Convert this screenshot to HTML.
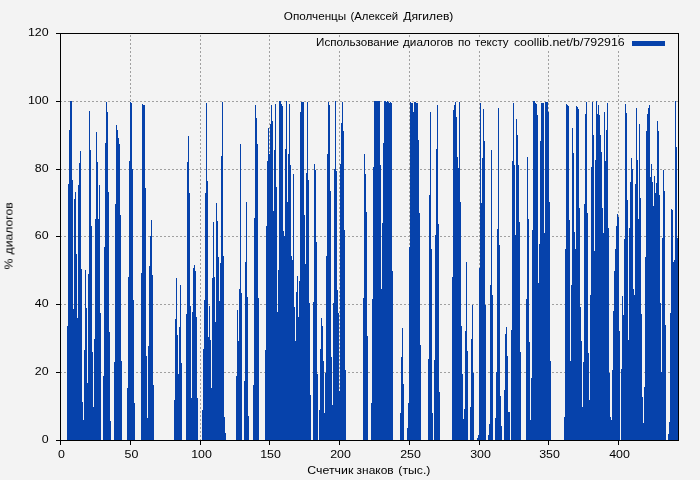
<!DOCTYPE html>
<html><head><meta charset="utf-8"><title>chart</title>
<style>
html,body{margin:0;padding:0;background:#f3f3f3;}
body{width:700px;height:480px;overflow:hidden;}
svg{display:block;}
text{font-family:"Liberation Sans",sans-serif;font-size:11.5px;fill:#000;}
</style></head><body>
<svg width="700" height="480" viewBox="0 0 700 480">
<rect x="0" y="0" width="700" height="480" fill="#f3f3f3"/>
<g stroke="#a0a0a0" stroke-width="1" stroke-dasharray="2,2" shape-rendering="crispEdges" fill="none">
<line x1="130.5" y1="441" x2="130.5" y2="33"/><line x1="200.5" y1="441" x2="200.5" y2="33"/><line x1="269.5" y1="441" x2="269.5" y2="33"/><line x1="339.5" y1="441" x2="339.5" y2="33"/><line x1="409.5" y1="441" x2="409.5" y2="33"/><line x1="479.5" y1="441" x2="479.5" y2="33"/><line x1="548.5" y1="441" x2="548.5" y2="33"/><line x1="618.5" y1="441" x2="618.5" y2="33"/><line x1="60" y1="372.5" x2="679" y2="372.5"/><line x1="60" y1="304.5" x2="679" y2="304.5"/><line x1="60" y1="236.5" x2="679" y2="236.5"/><line x1="60" y1="169.5" x2="679" y2="169.5"/><line x1="60" y1="101.5" x2="679" y2="101.5"/>
</g>
<rect x="313" y="38" width="358" height="13" fill="#f3f3f3" shape-rendering="crispEdges"/>
<g fill="#0642ab" shape-rendering="crispEdges">
<rect x="67" y="326" width="1" height="114"/><rect x="68" y="184" width="1" height="256"/><rect x="69" y="130" width="1" height="310"/><rect x="70" y="101" width="2" height="339"/><rect x="72" y="180" width="1" height="260"/><rect x="73" y="309" width="1" height="131"/><rect x="74" y="199" width="1" height="241"/><rect x="75" y="192" width="1" height="248"/><rect x="76" y="254" width="1" height="186"/><rect x="77" y="318" width="1" height="122"/><rect x="78" y="185" width="1" height="255"/><rect x="79" y="163" width="1" height="277"/><rect x="80" y="151" width="1" height="289"/><rect x="81" y="269" width="1" height="171"/><rect x="82" y="402" width="1" height="38"/><rect x="83" y="420" width="1" height="20"/><rect x="84" y="350" width="1" height="90"/><rect x="85" y="270" width="1" height="170"/><rect x="86" y="308" width="1" height="132"/><rect x="87" y="383" width="1" height="57"/><rect x="88" y="274" width="1" height="166"/><rect x="89" y="111" width="1" height="329"/><rect x="90" y="150" width="1" height="290"/><rect x="91" y="226" width="1" height="214"/><rect x="92" y="352" width="1" height="88"/><rect x="93" y="407" width="1" height="33"/><rect x="94" y="339" width="1" height="101"/><rect x="95" y="219" width="1" height="221"/><rect x="96" y="132" width="1" height="308"/><rect x="97" y="162" width="1" height="278"/><rect x="98" y="219" width="1" height="221"/><rect x="99" y="185" width="1" height="255"/><rect x="100" y="313" width="1" height="127"/><rect x="103" y="376" width="1" height="64"/><rect x="104" y="247" width="1" height="193"/><rect x="105" y="143" width="1" height="297"/><rect x="106" y="102" width="1" height="338"/><rect x="107" y="112" width="1" height="328"/><rect x="108" y="192" width="1" height="248"/><rect x="109" y="332" width="1" height="108"/><rect x="110" y="421" width="1" height="19"/><rect x="114" y="362" width="1" height="78"/><rect x="115" y="204" width="1" height="236"/><rect x="116" y="125" width="1" height="315"/><rect x="117" y="130" width="1" height="310"/><rect x="118" y="138" width="1" height="302"/><rect x="119" y="144" width="1" height="296"/><rect x="120" y="215" width="1" height="225"/><rect x="121" y="361" width="1" height="79"/><rect x="127" y="388" width="1" height="52"/><rect x="128" y="277" width="1" height="163"/><rect x="129" y="161" width="1" height="279"/><rect x="130" y="102" width="1" height="338"/><rect x="131" y="103" width="1" height="337"/><rect x="132" y="169" width="1" height="271"/><rect x="133" y="300" width="1" height="140"/><rect x="134" y="403" width="1" height="37"/><rect x="141" y="273" width="1" height="167"/><rect x="142" y="104" width="1" height="336"/><rect x="143" y="105" width="2" height="335"/><rect x="145" y="188" width="1" height="252"/><rect x="146" y="356" width="1" height="84"/><rect x="147" y="418" width="1" height="22"/><rect x="148" y="346" width="1" height="94"/><rect x="149" y="266" width="1" height="174"/><rect x="150" y="236" width="1" height="204"/><rect x="151" y="220" width="1" height="220"/><rect x="152" y="275" width="1" height="165"/><rect x="153" y="385" width="1" height="55"/><rect x="174" y="400" width="1" height="40"/><rect x="175" y="319" width="1" height="121"/><rect x="176" y="278" width="1" height="162"/><rect x="177" y="335" width="1" height="105"/><rect x="178" y="374" width="1" height="66"/><rect x="179" y="327" width="1" height="113"/><rect x="180" y="285" width="1" height="155"/><rect x="181" y="363" width="1" height="77"/><rect x="186" y="314" width="1" height="126"/><rect x="187" y="162" width="1" height="278"/><rect x="188" y="136" width="1" height="304"/><rect x="189" y="193" width="1" height="247"/><rect x="190" y="306" width="1" height="134"/><rect x="191" y="398" width="1" height="42"/><rect x="192" y="312" width="1" height="128"/><rect x="193" y="268" width="1" height="172"/><rect x="194" y="265" width="1" height="175"/><rect x="195" y="271" width="1" height="169"/><rect x="196" y="317" width="1" height="123"/><rect x="197" y="398" width="1" height="42"/><rect x="202" y="410" width="1" height="30"/><rect x="203" y="349" width="1" height="91"/><rect x="204" y="300" width="1" height="140"/><rect x="205" y="193" width="1" height="247"/><rect x="206" y="103" width="1" height="337"/><rect x="207" y="181" width="1" height="259"/><rect x="208" y="337" width="1" height="103"/><rect x="209" y="306" width="1" height="134"/><rect x="210" y="340" width="1" height="100"/><rect x="211" y="388" width="1" height="52"/><rect x="212" y="278" width="1" height="162"/><rect x="213" y="222" width="1" height="218"/><rect x="214" y="277" width="1" height="163"/><rect x="215" y="322" width="1" height="118"/><rect x="216" y="203" width="1" height="237"/><rect x="217" y="221" width="1" height="219"/><rect x="218" y="257" width="1" height="183"/><rect x="219" y="301" width="1" height="139"/><rect x="220" y="263" width="1" height="177"/><rect x="221" y="156" width="1" height="284"/><rect x="222" y="102" width="1" height="338"/><rect x="223" y="256" width="1" height="184"/><rect x="224" y="417" width="1" height="23"/><rect x="225" y="433" width="1" height="7"/><rect x="236" y="376" width="1" height="64"/><rect x="237" y="310" width="1" height="130"/><rect x="238" y="341" width="1" height="99"/><rect x="239" y="289" width="1" height="151"/><rect x="240" y="144" width="1" height="296"/><rect x="241" y="293" width="1" height="147"/><rect x="244" y="381" width="1" height="59"/><rect x="245" y="262" width="1" height="178"/><rect x="246" y="202" width="1" height="238"/><rect x="247" y="297" width="1" height="143"/><rect x="248" y="416" width="1" height="24"/><rect x="253" y="385" width="1" height="55"/><rect x="254" y="218" width="1" height="222"/><rect x="255" y="105" width="1" height="335"/><rect x="256" y="118" width="1" height="322"/><rect x="257" y="144" width="1" height="296"/><rect x="258" y="298" width="1" height="142"/><rect x="265" y="350" width="1" height="90"/><rect x="266" y="226" width="1" height="214"/><rect x="267" y="161" width="1" height="279"/><rect x="268" y="128" width="1" height="312"/><rect x="269" y="154" width="1" height="286"/><rect x="270" y="124" width="1" height="316"/><rect x="271" y="105" width="1" height="335"/><rect x="272" y="121" width="1" height="319"/><rect x="273" y="211" width="1" height="229"/><rect x="274" y="150" width="1" height="290"/><rect x="275" y="104" width="1" height="336"/><rect x="276" y="187" width="1" height="253"/><rect x="277" y="312" width="1" height="128"/><rect x="278" y="270" width="1" height="170"/><rect x="279" y="101" width="2" height="339"/><rect x="281" y="104" width="1" height="336"/><rect x="282" y="106" width="1" height="334"/><rect x="283" y="231" width="1" height="209"/><rect x="284" y="236" width="1" height="204"/><rect x="285" y="149" width="1" height="291"/><rect x="286" y="101" width="1" height="339"/><rect x="287" y="202" width="1" height="238"/><rect x="288" y="154" width="1" height="286"/><rect x="289" y="104" width="1" height="336"/><rect x="290" y="165" width="1" height="275"/><rect x="291" y="256" width="1" height="184"/><rect x="292" y="260" width="1" height="180"/><rect x="293" y="174" width="1" height="266"/><rect x="294" y="307" width="1" height="133"/><rect x="295" y="341" width="1" height="99"/><rect x="296" y="292" width="1" height="148"/><rect x="297" y="276" width="1" height="164"/><rect x="298" y="317" width="1" height="123"/><rect x="299" y="281" width="1" height="159"/><rect x="300" y="112" width="1" height="328"/><rect x="301" y="102" width="3" height="338"/><rect x="304" y="215" width="1" height="225"/><rect x="305" y="264" width="1" height="176"/><rect x="306" y="173" width="1" height="267"/><rect x="307" y="102" width="1" height="338"/><rect x="308" y="180" width="1" height="260"/><rect x="309" y="303" width="1" height="137"/><rect x="310" y="395" width="1" height="45"/><rect x="313" y="302" width="1" height="138"/><rect x="314" y="164" width="1" height="276"/><rect x="315" y="170" width="1" height="270"/><rect x="316" y="242" width="1" height="198"/><rect x="317" y="374" width="1" height="66"/><rect x="319" y="410" width="1" height="30"/><rect x="320" y="349" width="1" height="91"/><rect x="321" y="318" width="1" height="122"/><rect x="322" y="326" width="1" height="114"/><rect x="323" y="361" width="1" height="79"/><rect x="324" y="413" width="1" height="27"/><rect x="325" y="373" width="1" height="67"/><rect x="326" y="256" width="1" height="184"/><rect x="327" y="154" width="1" height="286"/><rect x="328" y="102" width="1" height="338"/><rect x="329" y="105" width="1" height="335"/><rect x="330" y="191" width="1" height="249"/><rect x="331" y="357" width="1" height="83"/><rect x="332" y="405" width="1" height="35"/><rect x="333" y="303" width="1" height="137"/><rect x="334" y="169" width="1" height="271"/><rect x="335" y="101" width="1" height="339"/><rect x="336" y="171" width="1" height="269"/><rect x="337" y="290" width="1" height="150"/><rect x="338" y="313" width="1" height="127"/><rect x="339" y="391" width="1" height="49"/><rect x="340" y="164" width="1" height="276"/><rect x="341" y="123" width="1" height="317"/><rect x="342" y="102" width="1" height="338"/><rect x="343" y="131" width="1" height="309"/><rect x="344" y="230" width="1" height="210"/><rect x="345" y="370" width="1" height="70"/><rect x="363" y="298" width="1" height="142"/><rect x="364" y="154" width="1" height="286"/><rect x="365" y="174" width="1" height="266"/><rect x="366" y="212" width="1" height="228"/><rect x="367" y="336" width="1" height="104"/><rect x="371" y="403" width="1" height="37"/><rect x="372" y="299" width="1" height="141"/><rect x="373" y="167" width="1" height="273"/><rect x="374" y="101" width="6" height="339"/><rect x="380" y="165" width="1" height="275"/><rect x="381" y="289" width="1" height="151"/><rect x="382" y="223" width="1" height="217"/><rect x="383" y="143" width="1" height="297"/><rect x="384" y="101" width="2" height="339"/><rect x="386" y="102" width="1" height="338"/><rect x="387" y="101" width="1" height="339"/><rect x="388" y="102" width="1" height="338"/><rect x="389" y="103" width="1" height="337"/><rect x="390" y="102" width="1" height="338"/><rect x="391" y="103" width="1" height="337"/><rect x="392" y="271" width="1" height="169"/><rect x="400" y="413" width="1" height="27"/><rect x="401" y="357" width="1" height="83"/><rect x="402" y="328" width="1" height="112"/><rect x="403" y="384" width="1" height="56"/><rect x="407" y="428" width="1" height="12"/><rect x="408" y="403" width="1" height="37"/><rect x="409" y="247" width="1" height="193"/><rect x="410" y="102" width="1" height="338"/><rect x="411" y="103" width="2" height="337"/><rect x="413" y="112" width="1" height="328"/><rect x="414" y="102" width="2" height="338"/><rect x="416" y="103" width="2" height="337"/><rect x="418" y="140" width="1" height="300"/><rect x="419" y="213" width="1" height="227"/><rect x="420" y="345" width="1" height="95"/><rect x="428" y="359" width="1" height="81"/><rect x="429" y="195" width="1" height="245"/><rect x="430" y="112" width="1" height="328"/><rect x="431" y="249" width="1" height="191"/><rect x="432" y="413" width="1" height="27"/><rect x="434" y="360" width="1" height="80"/><rect x="435" y="235" width="1" height="205"/><rect x="436" y="149" width="1" height="291"/><rect x="437" y="105" width="1" height="335"/><rect x="438" y="224" width="1" height="216"/><rect x="439" y="392" width="1" height="48"/><rect x="452" y="277" width="1" height="163"/><rect x="453" y="110" width="1" height="330"/><rect x="454" y="105" width="1" height="335"/><rect x="455" y="102" width="1" height="338"/><rect x="456" y="117" width="1" height="323"/><rect x="457" y="157" width="1" height="283"/><rect x="458" y="168" width="1" height="272"/><rect x="459" y="102" width="1" height="338"/><rect x="460" y="202" width="1" height="238"/><rect x="461" y="326" width="1" height="114"/><rect x="462" y="374" width="1" height="66"/><rect x="463" y="419" width="1" height="21"/><rect x="464" y="409" width="1" height="31"/><rect x="465" y="331" width="1" height="109"/><rect x="466" y="262" width="1" height="178"/><rect x="467" y="351" width="1" height="89"/><rect x="470" y="407" width="1" height="33"/><rect x="471" y="339" width="1" height="101"/><rect x="472" y="305" width="1" height="135"/><rect x="473" y="373" width="1" height="67"/><rect x="477" y="438" width="1" height="2"/><rect x="478" y="435" width="1" height="5"/><rect x="479" y="268" width="1" height="172"/><rect x="480" y="103" width="1" height="337"/><rect x="481" y="203" width="1" height="237"/><rect x="482" y="158" width="1" height="282"/><rect x="483" y="109" width="1" height="331"/><rect x="484" y="141" width="1" height="299"/><rect x="485" y="305" width="1" height="135"/><rect x="488" y="435" width="1" height="5"/><rect x="489" y="424" width="1" height="16"/><rect x="490" y="285" width="1" height="155"/><rect x="491" y="150" width="1" height="290"/><rect x="492" y="295" width="1" height="145"/><rect x="495" y="418" width="1" height="22"/><rect x="496" y="372" width="1" height="68"/><rect x="497" y="229" width="1" height="211"/><rect x="498" y="108" width="1" height="332"/><rect x="499" y="245" width="1" height="195"/><rect x="500" y="396" width="1" height="44"/><rect x="501" y="426" width="1" height="14"/><rect x="504" y="390" width="1" height="50"/><rect x="505" y="334" width="1" height="106"/><rect x="506" y="327" width="1" height="113"/><rect x="507" y="356" width="1" height="84"/><rect x="508" y="412" width="2" height="28"/><rect x="511" y="330" width="1" height="110"/><rect x="512" y="161" width="1" height="279"/><rect x="513" y="103" width="1" height="337"/><rect x="514" y="165" width="1" height="275"/><rect x="515" y="235" width="1" height="205"/><rect x="516" y="119" width="1" height="321"/><rect x="517" y="135" width="1" height="305"/><rect x="518" y="165" width="1" height="275"/><rect x="519" y="222" width="1" height="218"/><rect x="520" y="352" width="1" height="88"/><rect x="526" y="299" width="1" height="141"/><rect x="527" y="157" width="1" height="283"/><rect x="528" y="219" width="1" height="221"/><rect x="529" y="342" width="1" height="98"/><rect x="530" y="420" width="1" height="20"/><rect x="531" y="378" width="1" height="62"/><rect x="532" y="230" width="1" height="210"/><rect x="533" y="101" width="2" height="339"/><rect x="535" y="103" width="1" height="337"/><rect x="536" y="104" width="1" height="336"/><rect x="537" y="115" width="1" height="325"/><rect x="538" y="283" width="1" height="157"/><rect x="539" y="244" width="1" height="196"/><rect x="540" y="141" width="1" height="299"/><rect x="541" y="103" width="3" height="337"/><rect x="544" y="233" width="1" height="207"/><rect x="545" y="102" width="3" height="338"/><rect x="548" y="112" width="1" height="328"/><rect x="549" y="202" width="1" height="238"/><rect x="550" y="361" width="1" height="79"/><rect x="564" y="417" width="1" height="23"/><rect x="565" y="249" width="1" height="191"/><rect x="566" y="104" width="1" height="336"/><rect x="567" y="105" width="1" height="335"/><rect x="568" y="106" width="1" height="334"/><rect x="569" y="220" width="1" height="220"/><rect x="570" y="361" width="1" height="79"/><rect x="571" y="285" width="1" height="155"/><rect x="572" y="128" width="1" height="312"/><rect x="573" y="153" width="1" height="287"/><rect x="574" y="232" width="1" height="208"/><rect x="575" y="249" width="1" height="191"/><rect x="576" y="106" width="1" height="334"/><rect x="577" y="107" width="1" height="333"/><rect x="578" y="109" width="1" height="331"/><rect x="579" y="208" width="1" height="232"/><rect x="580" y="307" width="1" height="133"/><rect x="581" y="341" width="1" height="99"/><rect x="582" y="407" width="1" height="33"/><rect x="583" y="362" width="1" height="78"/><rect x="584" y="204" width="1" height="236"/><rect x="585" y="114" width="1" height="326"/><rect x="586" y="102" width="1" height="338"/><rect x="587" y="213" width="1" height="227"/><rect x="588" y="353" width="1" height="87"/><rect x="589" y="400" width="1" height="40"/><rect x="590" y="295" width="1" height="145"/><rect x="591" y="167" width="1" height="273"/><rect x="592" y="102" width="1" height="338"/><rect x="593" y="135" width="1" height="305"/><rect x="594" y="251" width="1" height="189"/><rect x="595" y="160" width="1" height="280"/><rect x="596" y="101" width="1" height="339"/><rect x="597" y="114" width="1" height="326"/><rect x="598" y="105" width="1" height="335"/><rect x="599" y="115" width="1" height="325"/><rect x="600" y="135" width="1" height="305"/><rect x="601" y="152" width="1" height="288"/><rect x="602" y="208" width="1" height="232"/><rect x="603" y="233" width="1" height="207"/><rect x="604" y="112" width="1" height="328"/><rect x="605" y="161" width="1" height="279"/><rect x="606" y="130" width="1" height="310"/><rect x="607" y="103" width="1" height="337"/><rect x="608" y="228" width="1" height="212"/><rect x="609" y="373" width="1" height="67"/><rect x="610" y="417" width="1" height="23"/><rect x="611" y="420" width="1" height="20"/><rect x="612" y="370" width="1" height="70"/><rect x="613" y="311" width="1" height="129"/><rect x="614" y="271" width="1" height="169"/><rect x="615" y="249" width="1" height="191"/><rect x="616" y="226" width="1" height="214"/><rect x="617" y="214" width="1" height="226"/><rect x="618" y="217" width="1" height="223"/><rect x="619" y="331" width="1" height="109"/><rect x="621" y="369" width="1" height="71"/><rect x="622" y="296" width="1" height="144"/><rect x="623" y="315" width="1" height="125"/><rect x="624" y="239" width="1" height="201"/><rect x="625" y="104" width="1" height="336"/><rect x="626" y="113" width="1" height="327"/><rect x="627" y="200" width="1" height="240"/><rect x="628" y="340" width="1" height="100"/><rect x="629" y="228" width="1" height="212"/><rect x="630" y="182" width="1" height="258"/><rect x="631" y="158" width="1" height="282"/><rect x="632" y="169" width="1" height="271"/><rect x="633" y="289" width="1" height="151"/><rect x="634" y="295" width="1" height="145"/><rect x="635" y="184" width="1" height="256"/><rect x="636" y="108" width="1" height="332"/><rect x="637" y="160" width="1" height="280"/><rect x="638" y="219" width="1" height="221"/><rect x="639" y="124" width="1" height="316"/><rect x="640" y="198" width="1" height="242"/><rect x="641" y="314" width="1" height="126"/><rect x="642" y="397" width="1" height="43"/><rect x="643" y="423" width="1" height="17"/><rect x="644" y="387" width="1" height="53"/><rect x="645" y="257" width="1" height="183"/><rect x="646" y="131" width="1" height="309"/><rect x="647" y="114" width="1" height="326"/><rect x="648" y="108" width="1" height="332"/><rect x="649" y="105" width="1" height="335"/><rect x="650" y="177" width="1" height="263"/><rect x="651" y="164" width="1" height="276"/><rect x="652" y="182" width="1" height="258"/><rect x="653" y="206" width="1" height="234"/><rect x="654" y="176" width="1" height="264"/><rect x="655" y="193" width="1" height="247"/><rect x="656" y="183" width="1" height="257"/><rect x="657" y="121" width="1" height="319"/><rect x="658" y="131" width="1" height="309"/><rect x="659" y="195" width="1" height="245"/><rect x="660" y="303" width="1" height="137"/><rect x="661" y="372" width="1" height="68"/><rect x="662" y="238" width="1" height="202"/><rect x="663" y="170" width="1" height="270"/><rect x="664" y="191" width="1" height="249"/><rect x="665" y="325" width="1" height="115"/><rect x="668" y="434" width="1" height="6"/><rect x="669" y="422" width="1" height="18"/><rect x="670" y="313" width="1" height="127"/><rect x="671" y="209" width="1" height="231"/><rect x="672" y="210" width="1" height="230"/><rect x="673" y="262" width="1" height="178"/><rect x="674" y="260" width="1" height="180"/><rect x="675" y="101" width="1" height="339"/><rect x="676" y="147" width="1" height="293"/><rect x="677" y="238" width="1" height="202"/>
<rect x="632" y="41" width="33" height="5"/>
</g>
<g stroke="#000" stroke-width="1" shape-rendering="crispEdges" fill="none">
<rect x="60.5" y="33.5" width="618.0" height="407.0"/>
<line x1="60.5" y1="440.5" x2="60.5" y2="445.0"/><line x1="130.5" y1="440.5" x2="130.5" y2="445.0"/><line x1="200.5" y1="440.5" x2="200.5" y2="445.0"/><line x1="269.5" y1="440.5" x2="269.5" y2="445.0"/><line x1="339.5" y1="440.5" x2="339.5" y2="445.0"/><line x1="409.5" y1="440.5" x2="409.5" y2="445.0"/><line x1="479.5" y1="440.5" x2="479.5" y2="445.0"/><line x1="548.5" y1="440.5" x2="548.5" y2="445.0"/><line x1="618.5" y1="440.5" x2="618.5" y2="445.0"/><line x1="56.0" y1="440.5" x2="60.5" y2="440.5"/><line x1="56.0" y1="372.5" x2="60.5" y2="372.5"/><line x1="56.0" y1="304.5" x2="60.5" y2="304.5"/><line x1="56.0" y1="236.5" x2="60.5" y2="236.5"/><line x1="56.0" y1="169.5" x2="60.5" y2="169.5"/><line x1="56.0" y1="101.5" x2="60.5" y2="101.5"/><line x1="56.0" y1="33.5" x2="60.5" y2="33.5"/>
</g>
<g opacity="0.999">
<text x="61.5" y="457.6" text-anchor="middle" textLength="6.9" lengthAdjust="spacingAndGlyphs">0</text><text x="131.5" y="457.6" text-anchor="middle" textLength="13.8" lengthAdjust="spacingAndGlyphs">50</text><text x="201.5" y="457.6" text-anchor="middle" textLength="20.700000000000003" lengthAdjust="spacingAndGlyphs">100</text><text x="270.5" y="457.6" text-anchor="middle" textLength="20.700000000000003" lengthAdjust="spacingAndGlyphs">150</text><text x="340.5" y="457.6" text-anchor="middle" textLength="20.700000000000003" lengthAdjust="spacingAndGlyphs">200</text><text x="410.5" y="457.6" text-anchor="middle" textLength="20.700000000000003" lengthAdjust="spacingAndGlyphs">250</text><text x="480.5" y="457.6" text-anchor="middle" textLength="20.700000000000003" lengthAdjust="spacingAndGlyphs">300</text><text x="549.5" y="457.6" text-anchor="middle" textLength="20.700000000000003" lengthAdjust="spacingAndGlyphs">350</text><text x="619.5" y="457.6" text-anchor="middle" textLength="20.700000000000003" lengthAdjust="spacingAndGlyphs">400</text>
<text x="48.6" y="443.0" text-anchor="end" textLength="6.9" lengthAdjust="spacingAndGlyphs">0</text><text x="48.6" y="375.0" text-anchor="end" textLength="13.8" lengthAdjust="spacingAndGlyphs">20</text><text x="48.6" y="307.0" text-anchor="end" textLength="13.8" lengthAdjust="spacingAndGlyphs">40</text><text x="48.6" y="239.0" text-anchor="end" textLength="13.8" lengthAdjust="spacingAndGlyphs">60</text><text x="48.6" y="172.0" text-anchor="end" textLength="13.8" lengthAdjust="spacingAndGlyphs">80</text><text x="48.6" y="104.0" text-anchor="end" textLength="20.700000000000003" lengthAdjust="spacingAndGlyphs">100</text><text x="48.6" y="36.0" text-anchor="end" textLength="20.700000000000003" lengthAdjust="spacingAndGlyphs">120</text>
<text x="283.8" y="20" textLength="62.4" lengthAdjust="spacingAndGlyphs">Ополченцы</text><text x="350.4" y="20" textLength="47.8" lengthAdjust="spacingAndGlyphs">(Алексей</text><text x="403.2" y="20" textLength="50.2" lengthAdjust="spacingAndGlyphs">Дягилев)</text>
<text x="316.1" y="46" textLength="83.0" lengthAdjust="spacingAndGlyphs">Использование</text><text x="403.0" y="46" textLength="50.3" lengthAdjust="spacingAndGlyphs">диалогов</text><text x="458.1" y="46" textLength="12.7" lengthAdjust="spacingAndGlyphs">по</text><text x="475.0" y="46" textLength="33.6" lengthAdjust="spacingAndGlyphs">тексту</text><text x="513.9" y="46" textLength="110.8" lengthAdjust="spacingAndGlyphs">coollib.net/b/792916</text>
<text x="307.3" y="474" textLength="46.0" lengthAdjust="spacingAndGlyphs">Счетчик</text><text x="356.6" y="474" textLength="37.0" lengthAdjust="spacingAndGlyphs">знаков</text><text x="398.3" y="474" textLength="32.1" lengthAdjust="spacingAndGlyphs">(тыс.)</text>
<g transform="translate(12.5,0) rotate(-90)"><text x="-269.5" y="0" textLength="10.9" lengthAdjust="spacingAndGlyphs">%</text><text x="-254.4" y="0" textLength="52.0" lengthAdjust="spacingAndGlyphs">диалогов</text></g>
</g>
</svg>
</body></html>
